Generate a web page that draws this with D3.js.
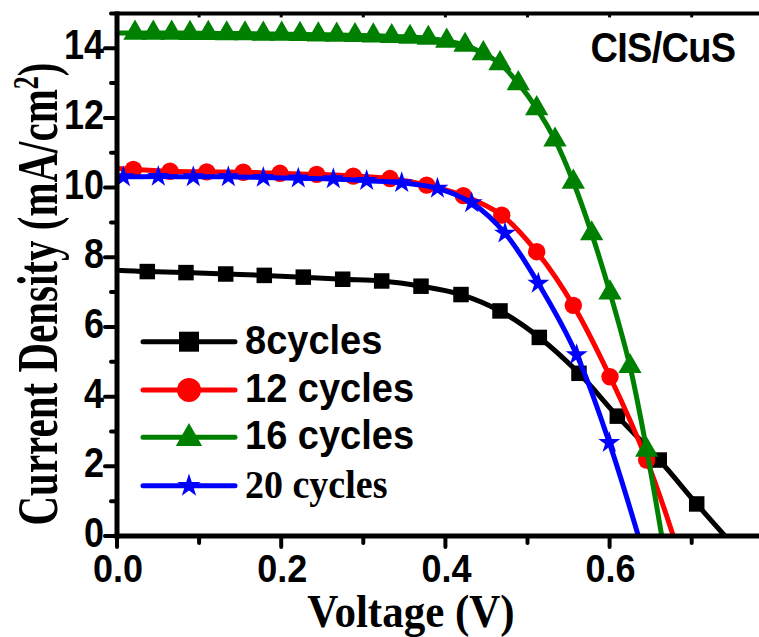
<!DOCTYPE html>
<html><head><meta charset="utf-8">
<script src="https://cdn.jsdelivr.net/npm/d3@7"></script>
<style>body{margin:0;background:#fff}svg{display:block}</style>
</head><body><svg id="c" width="759" height="637"></svg>
<script>
// ---- data ----
const seriesNames = ["8cycles", "12 cycles", "16 cycles", "20 cycles"];
const seriesColors = ["#000000", "#ff0000", "#008000", "#0000ff"];
const seriesSymbols = ["square", "circle", "triangle", "star"];
const jscValues = [7.63, 10.55, 14.44, 10.32];     // current at V = 0
const vocValues = [0.7406, 0.6776, 0.6635, 0.635]; // voltage at J = 0

const voltage8 = [0.0369, 0.0840, 0.1324, 0.1794, 0.2269, 0.2749, 0.3224, 0.3703, 0.4190, 0.4665, 0.5144, 0.5627, 0.6094, 0.6605, 0.7061];
const current8 = [7.59, 7.56, 7.52, 7.48, 7.43, 7.37, 7.32, 7.17, 6.93, 6.46, 5.70, 4.67, 3.44, 2.18, 0.92];

const voltage12 = [0.0199, 0.0646, 0.1093, 0.1538, 0.1985, 0.2432, 0.2878, 0.3325, 0.3772, 0.4218, 0.4686, 0.5112, 0.5558, 0.6005, 0.6452];
const current12 = [10.52, 10.47, 10.45, 10.44, 10.41, 10.38, 10.33, 10.26, 10.07, 9.77, 9.21, 8.16, 6.62, 4.57, 2.18];

const voltage16 = [0.0219, 0.0442, 0.0666, 0.0889, 0.1112, 0.1336, 0.1559, 0.1782, 0.2006, 0.2229, 0.2452, 0.2676, 0.2899, 0.3122, 0.3346, 0.3569, 0.3792, 0.4016, 0.4239, 0.4462, 0.4665, 0.4888, 0.5112, 0.5335, 0.5558, 0.5782, 0.6005, 0.6248, 0.6452];
const current16 = [14.44, 14.44, 14.44, 14.43, 14.43, 14.42, 14.42, 14.41, 14.41, 14.40, 14.39, 14.38, 14.37, 14.36, 14.34, 14.32, 14.29, 14.21, 14.09, 13.85, 13.56, 12.99, 12.27, 11.37, 10.16, 8.68, 6.98, 4.87, 2.47];

const voltage20 = [0.0077, 0.0503, 0.0929, 0.1356, 0.1782, 0.2208, 0.2635, 0.3041, 0.3468, 0.3903, 0.4320, 0.4726, 0.5132, 0.5599, 0.5996];
const current20 = [10.31, 10.32, 10.31, 10.31, 10.29, 10.27, 10.25, 10.20, 10.14, 9.98, 9.56, 8.69, 7.25, 5.20, 2.68];

const xMajorTicks = [0.0, 0.2, 0.4, 0.6];
const xMinorTicks = [0.1, 0.3, 0.5, 0.7];
const yMajorTicks = [0, 2, 4, 6, 8, 10, 12, 14];
const yMinorTicks = [1, 3, 5, 7, 9, 11, 13, 15];
const xTitle = "Voltage (V)";
const yTitle = "Current Density (mA/cm";
const panelLabel = "CIS/CuS";

// ---- drawing ----
const svg = d3.select("#c");
const x = d3.scaleLinear().domain([0, 0.8]).range([117, 773.8]);
const y = d3.scaleLinear().domain([0, 15]).range([536, 13.4]);
const SANS = "'Liberation Sans', Arial, sans-serif";
const SERIF = "'Liberation Serif', 'Times New Roman', serif";

const allV = [voltage8, voltage12, voltage16, voltage20];
const allJ = [current8, current12, current16, current20];
const series = seriesNames.map((name, i) => ({
  name, color: seriesColors[i], sym: seriesSymbols[i],
  pts: allV[i].map((v, k) => ({v, j: allJ[i][k]})),
  line: [{v: 0, j: jscValues[i]}].concat(allV[i].map((v, k) => ({v, j: allJ[i][k]})), [{v: vocValues[i], j: 0}])
}));

const symType = {square: d3.symbolSquare, circle: d3.symbolCircle, triangle: d3.symbolTriangle, star: d3.symbolStar};
const plotSize = {square: 15.5 * 15.5, circle: Math.PI * 8.7 * 8.7, triangle: 235, star: 150};
const legendSize = {square: 20 * 20, circle: Math.PI * 12 * 12, triangle: 300, star: 170};

svg.append("clipPath").attr("id", "pc").append("rect")
  .attr("x", 117).attr("y", 0).attr("width", 700).attr("height", 536);

const line = d3.line().x(d => x(d.v)).y(d => y(d.j)).curve(d3.curveCatmullRom.alpha(0.5));
const gData = svg.append("g").attr("clip-path", "url(#pc)");
series.forEach(s => {
  const g = gData.append("g");
  g.append("path").datum(s.line).attr("d", line).attr("fill", "none")
    .attr("stroke", s.color).attr("stroke-width", 5).attr("stroke-linejoin", "round");
  g.selectAll("path.m").data(s.pts).join("path").attr("class", "m")
    .attr("transform", d => `translate(${x(d.v)},${y(d.j)})`)
    .attr("d", d3.symbol().type(symType[s.sym]).size(plotSize[s.sym]))
    .attr("fill", s.color);
});

// axes frame
const axisG = svg.append("g").attr("stroke", "#000").attr("stroke-linecap", "butt");
axisG.append("line").attr("x1", 117).attr("x2", 117).attr("y1", y(15) - 2).attr("y2", 538.5).attr("stroke-width", 5);
axisG.append("line").attr("x1", 114.5).attr("x2", 759).attr("y1", 536).attr("y2", 536).attr("stroke-width", 5);
axisG.append("line").attr("x1", 117).attr("x2", 759).attr("y1", y(15)).attr("y2", y(15)).attr("stroke-width", 4);

// y ticks
yMajorTicks.forEach(t => axisG.append("line").attr("x1", 105).attr("x2", 117).attr("y1", y(t)).attr("y2", y(t)).attr("stroke-width", 4).attr("stroke-linecap", "round"));
yMinorTicks.forEach(t => axisG.append("line").attr("x1", 111).attr("x2", 117).attr("y1", y(t)).attr("y2", y(t)).attr("stroke-width", 4).attr("stroke-linecap", "round"));
// x ticks
xMajorTicks.forEach(t => axisG.append("line").attr("x1", x(t)).attr("x2", x(t)).attr("y1", 536).attr("y2", 547).attr("stroke-width", 4).attr("stroke-linecap", "round"));
xMinorTicks.forEach(t => axisG.append("line").attr("x1", x(t)).attr("x2", x(t)).attr("y1", 536).attr("y2", 543).attr("stroke-width", 4).attr("stroke-linecap", "round"));
// top ticks (inside)
xMajorTicks.concat(xMinorTicks).filter(t => t > 0).forEach(t => axisG.append("line").attr("x1", x(t)).attr("x2", x(t)).attr("y1", y(15)).attr("y2", y(15) + 4).attr("stroke-width", 3));

// tick labels
yMajorTicks.forEach(t => svg.append("text")
  .attr("transform", `translate(104,${y(t) + 11}) scale(1,1.16)`)
  .attr("text-anchor", "end").attr("font-family", SANS).attr("font-weight", "bold")
  .attr("font-size", 36).text(String(t)));
xMajorTicks.forEach(t => svg.append("text")
  .attr("transform", `translate(${x(t) + 1},582) scale(1,1.1)`)
  .attr("text-anchor", "middle").attr("font-family", SANS).attr("font-weight", "bold")
  .attr("font-size", 36).text(t.toFixed(1)));

// axis titles
svg.append("text").attr("transform", "translate(411,627) scale(1,1.06)")
  .attr("text-anchor", "middle").attr("font-family", SERIF).attr("font-weight", "bold")
  .attr("font-size", 43).text(xTitle);
const yt = svg.append("text").attr("transform", "translate(57,294) rotate(-90) scale(1,1.38)")
  .attr("text-anchor", "middle").attr("font-family", SERIF).attr("font-weight", "bold")
  .attr("font-size", 41);
yt.append("tspan").text(yTitle);
yt.append("tspan").attr("font-size", 26).attr("dy", -14).text("2");
yt.append("tspan").attr("dy", 14).text(")");

// panel label
svg.append("text").attr("transform", "translate(663,61.5) scale(1,1.1)")
  .attr("text-anchor", "middle").attr("font-family", SANS).attr("font-weight", "bold")
  .attr("font-size", 38).attr("letter-spacing", -0.7).text(panelLabel);

// legend
const legRows = [341.7, 390, 437.3, 485.7];
series.forEach((s, i) => {
  const g = svg.append("g");
  g.append("line").attr("x1", 143).attr("x2", 235).attr("y1", legRows[i]).attr("y2", legRows[i])
    .attr("stroke", s.color).attr("stroke-width", 5).attr("stroke-linecap", "round");
  g.append("path").attr("transform", `translate(189,${legRows[i] + (s.sym === "triangle" ? 1 : 0)})`)
    .attr("d", d3.symbol().type(symType[s.sym]).size(legendSize[s.sym])).attr("fill", s.color);
  const isSerif = i === 3;
  g.append("text").attr("transform", `translate(245,${legRows[i] + 12}) scale(1,1.05)`)
    .attr("font-family", isSerif ? SERIF : SANS).attr("font-weight", "bold")
    .attr("font-size", 38).text(s.name);
});
</script></body></html>
